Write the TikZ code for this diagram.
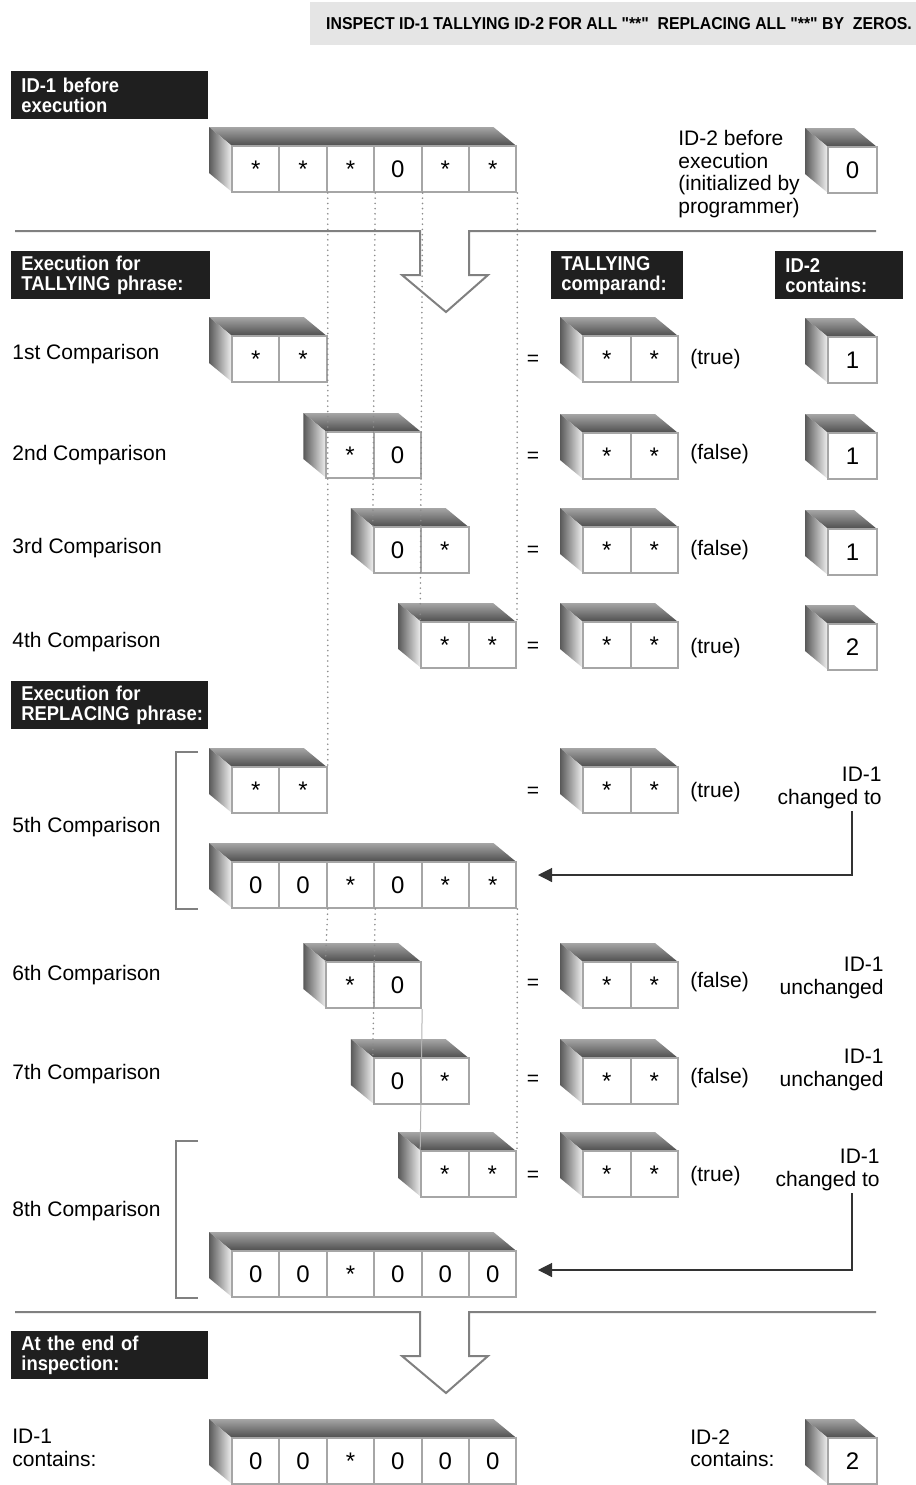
\documentclass[tikz,border=0pt]{standalone}
\usepackage{fontspec}
\setmainfont{Liberation Sans}
\newfontfamily\condfont[FakeStretch=0.92]{Liberation Sans}
\usetikzlibrary{arrows.meta}
\tikzset{
  cell/.style={draw=black!35, line width=1pt, fill=white, inner sep=0pt,
    text height=8.6pt, text depth=0pt, font=\fontsize{12}{12}\selectfont},
  lbl/.style={inner sep=0pt, font=\fontsize{10.5}{11.25}\selectfont},
  blkbox/.style={fill=black!88, text=white, anchor=north west, align=left,
    inner xsep=5pt, inner ysep=0pt, minimum height=24pt, text width=#1,
    font=\condfont\bfseries\fontsize{10}{10}\selectfont},
  sepline/.style={draw=black!50, line width=1pt},
  dots/.style={draw=black!45, line width=0.9pt, line cap=round, dash pattern=on 0pt off 2.6pt},
  thinline/.style={draw=black!30, line width=0.5pt},
  chg/.style={draw=black!80, line width=0.6pt, -{Triangle[length=7pt,width=7pt]}},
  brk/.style={draw=black!50, line width=0.7pt},
}
% #1 name, #2 x, #3 y (front top-left, px), #4 cells, #5 cell width, #6 contents
\newcommand\membox[6]{%
  \pgfmathsetmacro\mbR{#2+#4*#5}%
  \shade[top color=black!35, bottom color=black!70]
    (#2,#3) -- (#2-23,#3-19) -- (\mbR-23,#3-19) -- (\mbR,#3) -- cycle;
  \shade[left color=black!65, right color=black!5]
    (#2,#3) -- (#2-23,#3-19) -- (#2-23,#3+27) -- (#2,#3+46) -- cycle;
  \foreach[count=\i] \c in {#6} {
    \node[cell, minimum width=#5*0.5pt, minimum height=23pt] (#1-\i)
      at ({#2+(\i-0.5)*#5},{#3+23}) {\c};
  }%
}
\begin{document}
\begin{tikzpicture}[x=0.5pt,y=-0.5pt]
\useasboundingbox (0,0) rectangle (916,1485);

% header
\fill[black!10] (310,2) rectangle (916,45);
\node[inner sep=0pt, font=\condfont\bfseries\fontsize{8.6}{9}\selectfont] (hdr) at (619,24)
  {INSPECT ID-1 TALLYING ID-2 FOR ALL "**"\ \ REPLACING ALL "**" BY\ \ ZEROS.};

% black labels
\node[blkbox=88.5pt] (b1) at (11,71) {ID-1 before\\execution};
\node[blkbox=89.5pt] (b2) at (11,251) {Execution for\\TALLYING phrase:};
\node[blkbox=56pt] (b3) at (551,251) {TALLYING\\comparand:};
\node[blkbox=54pt] (b4) at (775,251) {ID-2\\contains:};
\node[blkbox=88.5pt] (b5) at (11,681) {Execution for\\\mbox{REPLACING phrase:}};
\node[blkbox=88.5pt] (b6) at (11,1331) {At the end of\\inspection:};

% separators with hollow arrows
\draw[sepline, line join=miter] (15,231) -- (420,231) -- (420,275) -- (402,275) -- (446,312)
  -- (488,275) -- (469,275) -- (469,231) -- (876,231);
\draw[sepline, line join=miter] (15,1312) -- (420,1312) -- (420,1356) -- (402,1356) -- (446,1393)
  -- (488,1356) -- (469,1356) -- (469,1312) -- (876,1312);

% brackets
\draw[brk] (198,752) -- (176,752) -- (176,909) -- (198,909);
\draw[brk] (198,1141) -- (176,1141) -- (176,1298) -- (198,1298);

% ID-1 before
\membox{top}{232}{146}{6}{47.4}{*,*,*,0,*,*}
\membox{idb}{828}{147}{1}{49}{0}
\node[lbl, anchor=north west, align=left] (id2b) at (678,130)
  {ID-2 before\\execution\\(initialized by\\programmer)};

% tallying rows
\membox{s1}{232}{336}{2}{47.4}{*,*}
\membox{s2}{326.4}{432}{2}{47.4}{*,0}
\membox{s3}{373.8}{527}{2}{47.4}{0,*}
\membox{s4}{421.2}{622}{2}{47.4}{*,*}
\membox{c1}{583}{336}{2}{47.5}{*,*}
\membox{c2}{583}{433}{2}{47.5}{*,*}
\membox{c3}{583}{527}{2}{47.5}{*,*}
\membox{c4}{583}{622}{2}{47.5}{*,*}
\membox{n1}{828}{337}{1}{49}{1}
\membox{n2}{828}{433}{1}{49}{1}
\membox{n3}{828}{529}{1}{49}{1}
\membox{n4}{828}{624}{1}{49}{2}

\node[lbl, anchor=base west] (l1) at (12,359.5) {1st Comparison};
\node[lbl, anchor=base west] (l2) at (12,460.5) {2nd Comparison};
\node[lbl, anchor=base west] (l3) at (12,553.5) {3rd Comparison};
\node[lbl, anchor=base west] (l4) at (12,647.5) {4th Comparison};
\node[lbl] (e1) at (533,360) {=};
\node[lbl] (e2) at (533,457) {=};
\node[lbl] (e3) at (533,551) {=};
\node[lbl] (e4) at (533,647) {=};
\node[lbl, anchor=base west] (r1) at (690,364.5) {(true)};
\node[lbl, anchor=base west] (r2) at (690,459.5) {(false)};
\node[lbl, anchor=base west] (r3) at (690,555.5) {(false)};
\node[lbl, anchor=base west] (r4) at (690,653.5) {(true)};

% replacing rows
\membox{s5}{232}{767}{2}{47.4}{*,*}
\membox{f5}{232}{862}{6}{47.4}{0,0,*,0,*,*}
\membox{s6}{326.4}{962}{2}{47.4}{*,0}
\membox{s7}{373.8}{1058}{2}{47.4}{0,*}
\membox{s8}{421.2}{1151}{2}{47.4}{*,*}
\membox{f8}{232}{1251}{6}{47.4}{0,0,*,0,0,0}
\membox{c5}{583}{767}{2}{47.5}{*,*}
\membox{c6}{583}{962}{2}{47.5}{*,*}
\membox{c7}{583}{1058}{2}{47.5}{*,*}
\membox{c8}{583}{1151}{2}{47.5}{*,*}

\node[lbl, anchor=base west] (l5) at (12,832.5) {5th Comparison};
\node[lbl, anchor=base west] (l6) at (12,980.5) {6th Comparison};
\node[lbl, anchor=base west] (l7) at (12,1079.5) {7th Comparison};
\node[lbl, anchor=base west] (l8) at (12,1216.5) {8th Comparison};
\node[lbl] (e5) at (533,792) {=};
\node[lbl] (e6) at (533,984) {=};
\node[lbl] (e7) at (533,1080) {=};
\node[lbl] (e8) at (533,1176) {=};
\node[lbl, anchor=base west] (r5) at (690,797.5) {(true)};
\node[lbl, anchor=base west] (r6) at (690,987.5) {(false)};
\node[lbl, anchor=base west] (r7) at (690,1083.5) {(false)};
\node[lbl, anchor=base west] (r8) at (690,1181.5) {(true)};

\node[lbl, anchor=north east, align=right] (k5) at (882,767) {ID-1\\changed to};
\node[lbl, anchor=north east, align=right] (k6) at (884,957) {ID-1\\unchanged};
\node[lbl, anchor=north east, align=right] (k7) at (884,1049) {ID-1\\unchanged};
\node[lbl, anchor=north east, align=right] (k8) at (880,1149) {ID-1\\changed to};

\coordinate (t5) at (538,875);
\coordinate (t8) at (538,1270);
\draw[chg] ([xshift=-15pt,yshift=-1pt]k5.south east) |- (t5);
\draw[chg] ([xshift=-14pt,yshift=-1pt]k8.south east) |- (t8);

% end of inspection
\node[lbl, anchor=north west, align=left] (fin1) at (12,1429) {ID-1\\contains:};
\node[lbl, anchor=north west, align=left] (fin2) at (690,1429) {ID-2\\contains:};
\membox{fa}{232}{1438}{6}{47.4}{0,0,*,0,0,0}
\membox{fb}{828}{1438}{1}{49}{2}

% guide lines
\draw[dots] (top-2.south east) -- (s5-2.north east);
\draw[dots] (top-3.south east) -- (s3-1.north west);
\draw[dots] (top-4.south east) -- (s4-1.north west);
\draw[dots] (top-6.south east) -- (s4-2.north east);
\draw[dots] (f5-2.south east) -- (s6-1.north west);
\draw[dots] (f5-3.south east) -- (s7-1.north west);
\draw[dots] (f5-6.south east) -- (s8-2.north east);
\draw[thinline] (s6-2.south east) -- (s8-1.north west);
\end{tikzpicture}
\end{document}
